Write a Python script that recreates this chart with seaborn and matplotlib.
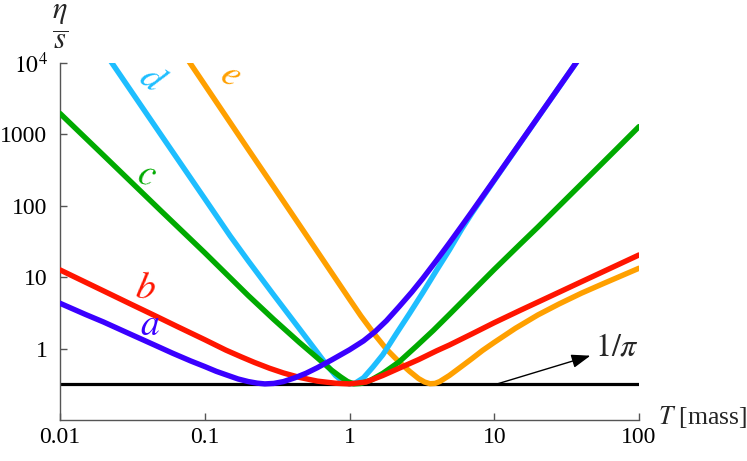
import numpy as np
import matplotlib
matplotlib.use("Agg")
import matplotlib.pyplot as plt
import seaborn as sns

# values (T in units of mass, eta/s)
a_T = [0.01, 0.015, 0.02, 0.03, 0.045, 0.06, 0.08, 0.1, 0.12, 0.14, 0.17, 0.2, 0.23, 0.26, 0.3, 0.35,
       0.42, 0.5, 0.6, 0.75, 1.0, 1.25, 1.5, 1.8, 2.2, 2.7, 3.2, 4.0, 4.9, 6, 7, 10, 20, 40]
a_eta = [4.3, 3.0, 2.35, 1.62, 1.12, 0.86, 0.67, 0.56, 0.48, 0.43, 0.375, 0.345, 0.328, 0.32, 0.325, 0.345,
         0.39, 0.45, 0.54, 0.69, 0.96, 1.28, 1.72, 2.45, 3.85, 6.2, 9.5, 17.2, 30, 53, 82, 229, 1710, 12750]

b_T = [0.01, 0.02, 0.03, 0.045, 0.065, 0.1, 0.14, 0.18, 0.22, 0.28, 0.35, 0.45, 0.6, 0.8, 1.0,
       1.3, 1.7, 2.2, 3.0, 4.0, 4.9, 7, 10, 15, 24, 40, 60, 100]
b_eta = [12.6, 6.4, 4.3, 2.9, 2.02, 1.33, 0.95, 0.76, 0.64, 0.53, 0.455, 0.395, 0.35, 0.327, 0.32,
         0.34, 0.42, 0.53, 0.7, 0.93, 1.12, 1.6, 2.3, 3.4, 5.3, 8.6, 12.6, 20.4]

c_T = [0.01, 0.02, 0.05, 0.1, 0.2, 0.3, 0.45, 0.6, 0.75, 0.87, 0.97, 1.07, 1.2, 1.4, 1.7, 2.2, 2.9,
       3.8, 4.9, 7, 10, 15, 20, 30, 50, 70, 100]
c_eta = [1950, 505, 84, 21.9, 5.5, 2.55, 1.22, 0.74, 0.5, 0.4, 0.345, 0.32, 0.325, 0.36, 0.45, 0.65, 1.08,
         1.8, 3.0, 6.2, 12.8, 28.5, 50, 113, 315, 620, 1276]

d_T = [0.02, 0.05, 0.1, 0.15, 0.2, 0.3, 0.45, 0.6, 0.7, 0.8, 0.9, 1.0, 1.1, 1.25, 1.45, 1.7, 2.1, 2.6,
       3.2, 4.0, 4.9, 6, 7, 10, 20, 40]
d_eta = [14700, 970, 125, 37.5, 16.8, 5.6, 1.9, 0.88, 0.58, 0.42, 0.345, 0.32, 0.33, 0.39, 0.55, 0.82, 1.6, 3.1,
         6.0, 12.5, 24, 48, 78, 225, 1700, 12700]

e_T = [0.07, 0.1, 0.2, 0.3, 0.46, 0.7, 1.0, 1.2, 1.5, 1.8, 2.2, 2.6, 3.0, 3.3, 3.6, 3.9, 4.2, 4.9,
       6, 7, 8.3, 10, 14, 20, 28, 40, 57, 100]
e_eta = [14300, 4900, 610, 182, 50.5, 14.3, 4.9, 2.85, 1.55, 0.98, 0.65, 0.48, 0.38, 0.34, 0.322, 0.325, 0.345, 0.42,
         0.57, 0.72, 0.94, 1.22, 1.92, 2.95, 4.2, 5.95, 8.15, 13.3]

kss = 1 / np.pi

colors = {"a": "#3a00ff", "b": "#ff1500", "c": "#00aa00", "d": "#1ebeff", "e": "#ffa000"}

sns.set_style("ticks")
plt.rcParams["font.family"] = ["Liberation Serif", "DejaVu Serif"]
plt.rcParams["mathtext.fontset"] = "stix"

W, H = 747, 461
fig = plt.figure(figsize=(W / 100, H / 100), dpi=100)
ax = fig.add_axes([60 / W, 41 / H, 579 / W, 357.3 / H])

ax.axhline(kss, color="black", lw=2.3, zorder=1)

curves = [("e", e_T, e_eta), ("d", d_T, d_eta), ("c", c_T, c_eta), ("b", b_T, b_eta), ("a", a_T, a_eta)]
for i, (name, T, eta) in enumerate(curves):
    sns.lineplot(x=T, y=eta, ax=ax, color=colors[name], lw=3.9, sort=False,
                 estimator=None, zorder=2 + i)

ax.set(xscale="log", yscale="log", xlim=(0.01, 100), ylim=(0.1, 1e4))
ax.set_xticks([0.01, 0.1, 1, 10, 100])
ax.set_xticklabels(["0.01", "0.1", "1", "10", "100"])
ax.set_yticks([1, 10, 100, 1000, 1e4])
ax.set_yticklabels(["1", "10", "100", "1000", "$10^4$"])
ax.minorticks_off()
ax.tick_params(direction="in", length=5, width=1, color="#555555",
               labelsize=17, labelcolor="black")
ax.tick_params(axis="x", pad=5)
ax.tick_params(axis="y", pad=9)
sns.despine(ax=ax)
for s in ["left", "bottom"]:
    ax.spines[s].set_color("#555555")
    ax.spines[s].set_linewidth(1)

# axis labels
fig.text(60 / W, 1 - 27 / H, r"$\dfrac{\eta}{s}$", ha="center", va="center", fontsize=22)
fig.text(658 / W, 1 - 417 / H, "$T$ [mass]", ha="left", va="center", fontsize=18.5)

# curve labels
labels = [("a", 150, 326, 0), ("b", 145, 289, -8), ("c", 147, 175, -15),
          ("d", 152, 80, -38), ("e", 230, 76, -30)]
for name, px, py, rot in labels:
    fig.text(px / W, 1 - py / H, f"${name}$", color=colors[name], fontsize=27,
             ha="center", va="center", rotation=rot)

ax.annotate(r"$1/\pi$", xy=(10.4, kss), xytext=(70.5, 1.03), fontsize=23,
            ha="center", va="center",
            arrowprops=dict(arrowstyle="<|-,head_length=0.5,head_width=0.18",
                            color="black", lw=1, shrinkA=1, shrinkB=0))

fig.savefig("out.png", dpi=100)
